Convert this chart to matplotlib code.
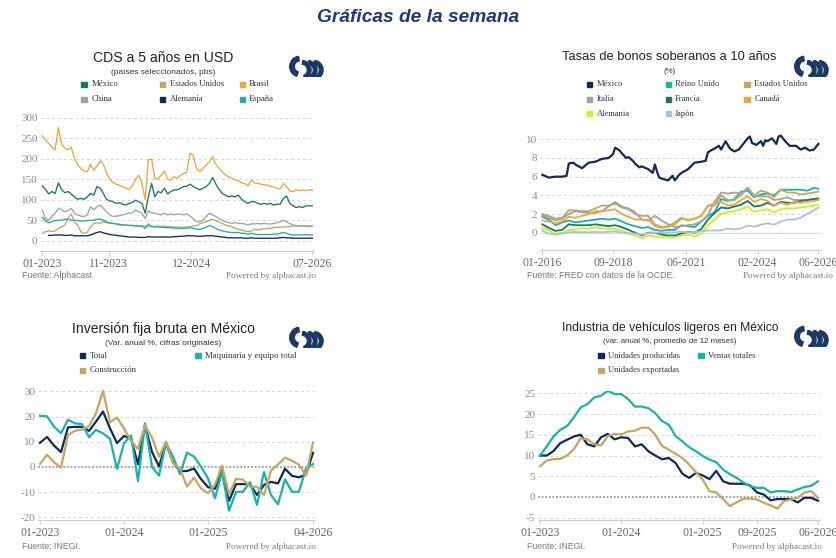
import matplotlib
matplotlib.use('Agg')
import matplotlib.pyplot as plt
from matplotlib.patches import Wedge, Rectangle
import numpy as np

# ---------------- DATA ----------------
# Panel 1: CDS a 5 años en USD (months since 01-2023, half-month samples)
cds_months = [i * 0.5 for i in range(85)]
cds_mexico = [134, 125, 114, 120, 115, 141, 125, 117, 120, 114,
              107, 101, 103, 101, 107, 115, 111, 132, 128, 115,
              101, 97, 95, 91, 93, 89, 87, 91, 93, 99,
              95, 91, 67, 107, 140, 107, 120, 117, 128, 114,
              120, 124, 124, 128, 132, 133, 138, 132, 128, 124,
              128, 132, 140, 154, 138, 125, 115, 111, 107, 109,
              107, 111, 101, 95, 91, 95, 95, 91, 89, 91,
              89, 91, 87, 89, 89, 103, 109, 91, 85, 81,
              83, 81, 85, 85, 85]
cds_eeuu = [18, 22, 24, 22, 24, 30, 34, 38, 54, 65,
            46, 38, 22, 18, 20, 34, 42, 44, 42, 46,
            44, 42, 42, 41, 38, 38, 38, 37, 38, 36,
            36, 34, 36, 34, 36, 34, 36, 34, 36, 34,
            34, 33, 34, 33, 33, 34, 34, 36, 37, 41,
            44, 46, 50, 52, 49, 46, 42, 38, 36, 34,
            30, 28, 26, 24, 22, 24, 28, 26, 28, 29,
            30, 30, 32, 33, 33, 33, 34, 34, 36, 36,
            36, 36, 36, 36, 36]
cds_brasil = [256, 245, 237, 228, 222, 276, 236, 226, 222, 228,
              200, 186, 176, 170, 168, 186, 172, 182, 195, 186,
              165, 150, 142, 138, 135, 131, 128, 125, 134, 150,
              160, 140, 100, 198, 199, 152, 150, 160, 170, 150,
              148, 156, 152, 160, 164, 168, 214, 208, 176, 168,
              176, 185, 192, 205, 186, 176, 168, 160, 156, 152,
              148, 146, 141, 139, 134, 148, 141, 140, 138, 136,
              136, 133, 131, 128, 126, 140, 132, 121, 120, 124,
              122, 124, 122, 124, 124]
cds_china = [75, 54, 50, 60, 67, 79, 75, 71, 73, 79,
             67, 63, 60, 59, 63, 83, 75, 83, 87, 79,
             71, 63, 59, 60, 61, 63, 65, 67, 68, 75,
             71, 67, 54, 73, 68, 67, 65, 63, 67, 63,
             65, 63, 65, 65, 63, 65, 60, 54, 46, 46,
             50, 59, 67, 63, 59, 54, 50, 46, 44, 42,
             44, 42, 42, 41, 38, 41, 41, 42, 41, 42,
             41, 41, 42, 44, 46, 50, 46, 42, 38, 37,
             36, 36, 36, 34, 36]
cds_alemania = [np.nan, np.nan, 13, 13, 14, 14, 14, 13, 13, 14,
                12, 12, 12, 12, 12, 14, 17, 20, 22, 19,
                17, 15, 14, 13, 12, 11, 10, 9, 9, 9,
                8, 8, 8, 10, 9, 9, 9, 9, 9, 9,
                9, 10, 10, 11, 11, 12, 12, 12, 11, 11,
                11, 12, 12, 12, 11, 10, 9, 8, 7, 7,
                7, 7, 7, 6, 6, 7, 6, 6, 6, 6,
                6, 6, 6, 6, 7, 8, 7, 7, 6, 6,
                6, 6, 6, 6, 6]
cds_espana = [57, 48, 44, 46, 49, 50, 50, 52, 53, 50,
              50, 49, 48, 48, 49, 50, 50, 52, 53, 50,
              46, 44, 42, 41, 40, 39, 38, 37, 37, 36,
              36, 36, 30, 41, 34, 34, 33, 33, 32, 32,
              31, 31, 30, 30, 30, 30, 32, 30, 28, 28,
              30, 33, 37, 34, 30, 26, 24, 22, 21, 20,
              20, 20, 18, 18, 16, 18, 16, 15, 15, 15,
              15, 15, 16, 16, 18, 20, 18, 15, 14, 14,
              14, 14, 15, 14, 14]
cds_tick_pos = [0, 10.3, 23.2, 42]
cds_tick_lab = ['01-2023', '11-2023', '12-2024', '07-2026']

# Panel 2: Tasas de bonos soberanos a 10 años (months since 01-2016)
bond_mx_months = [0, 3, 6, 9, 11, 12, 14, 15, 18, 21, 24, 27, 30, 32, 33, 35, 36, 38, 39, 41,
                  42, 44, 45, 48, 50, 51, 52, 53, 54, 57, 59, 60, 62, 63, 66, 69, 72, 74, 75, 77,
                  78, 80, 81, 83, 85, 87, 89, 91, 93, 94, 95, 97, 99, 100, 101, 102, 104, 106, 107, 108,
                  110, 112, 115, 117, 119, 121, 123, 125]
bond_mexico = [6.2, 5.9, 6.0, 6.0, 6.1, 7.4, 7.5, 7.3, 6.9, 7.5, 7.6, 7.9, 8.0, 8.4, 9.1, 8.8, 8.5, 8.0, 8.1, 7.7,
               7.4, 7.0, 7.1, 6.8, 6.4, 7.3, 6.5, 5.9, 5.8, 5.6, 6.1, 5.6, 6.2, 6.4, 6.8, 7.5, 7.6, 7.7, 8.6, 8.9,
               9.0, 9.3, 8.9, 9.8, 9.0, 8.7, 8.9, 9.5, 10.1, 10.3, 9.6, 9.4, 9.8, 9.3, 9.9, 9.8, 10.1, 9.5, 10.3, 10.4,
               9.8, 9.3, 9.3, 8.9, 9.1, 8.8, 8.9, 9.5]
bond_months = [0, 3, 6, 9, 12, 15, 18, 21, 24, 27, 30, 33, 36, 39, 42, 45, 48, 51, 54, 57,
               60, 63, 66, 69, 72, 75, 78, 81, 84, 87, 90, 93, 96, 99, 102, 105, 108, 111, 114, 117,
               120, 123, 125]
bond_reino_unido = [1.7, 1.4, 0.8, 1.1, 1.3, 1.1, 1.2, 1.3, 1.4, 1.5,
                    1.4, 1.5, 1.2, 0.9, 0.7, 0.5, 0.6, 0.3, 0.2, 0.3,
                    0.3, 0.8, 0.7, 0.6, 1.2, 1.8, 2.2, 3.6, 3.4, 3.6,
                    4.4, 4.5, 3.8, 4.1, 4.2, 4.0, 4.6, 4.6, 4.6, 4.6,
                    4.5, 4.8, 4.7]
bond_eeuu = [2.0, 1.8, 1.5, 1.6, 2.4, 2.4, 2.3, 2.3, 2.6, 2.9,
             2.9, 3.1, 2.7, 2.5, 2.0, 1.8, 1.8, 0.9, 0.6, 0.7,
             1.1, 1.6, 1.3, 1.5, 1.8, 2.9, 2.9, 4.0, 3.5, 3.5,
             4.0, 4.8, 4.0, 4.5, 4.3, 3.8, 4.6, 4.3, 4.3, 4.1,
             4.2, 4.3, 4.4]
bond_italia = [1.9, 1.6, 1.3, 1.5, 2.0, 2.3, 2.2, 2.1, 2.1, 2.3,
               2.8, 3.3, 2.8, 2.6, 2.2, 1.4, 1.3, 1.8, 1.3, 0.9,
               0.6, 0.7, 0.8, 0.9, 1.2, 1.9, 3.3, 4.3, 4.2, 4.3,
               4.2, 4.8, 3.9, 3.9, 3.9, 3.5, 3.6, 3.8, 3.5, 3.5,
               3.5, 3.6, 3.7]
bond_francia = [0.9, 0.5, 0.2, 0.3, 0.9, 0.8, 0.8, 0.8, 0.9, 0.8,
                0.7, 0.8, 0.6, 0.3, 0.0, -0.3, 0.0, 0.0, -0.2, -0.3,
                -0.3, -0.1, 0.1, 0.0, 0.4, 1.4, 2.1, 2.7, 2.6, 2.8,
                3.0, 3.4, 2.8, 2.9, 3.2, 2.9, 3.3, 3.2, 3.2, 3.4,
                3.5, 3.6, 3.6]
bond_canada = [1.3, 1.2, 1.0, 1.2, 1.7, 1.6, 1.8, 2.0, 2.3, 2.3,
               2.4, 2.5, 2.0, 1.7, 1.4, 1.4, 1.4, 0.7, 0.5, 0.6,
               0.9, 1.5, 1.4, 1.5, 1.8, 2.9, 3.1, 3.3, 2.9, 3.0,
               3.5, 3.9, 3.3, 3.6, 3.4, 2.9, 3.2, 3.0, 3.3, 3.2,
               3.3, 3.4, 3.5]
bond_alemania = [0.5, 0.2, -0.1, 0.0, 0.3, 0.3, 0.5, 0.4, 0.6, 0.5,
                 0.4, 0.4, 0.2, -0.1, -0.3, -0.6, -0.3, -0.4, -0.5, -0.5,
                 -0.5, -0.3, -0.2, -0.4, -0.1, 0.8, 1.4, 2.0, 2.2, 2.3,
                 2.5, 2.8, 2.2, 2.4, 2.5, 2.2, 2.5, 2.6, 2.6, 2.7,
                 2.8, 2.9, 3.0]
bond_japon = [0.2, -0.1, -0.2, -0.1, 0.05, 0.07, 0.05, 0.05, 0.08, 0.04,
              0.1, 0.13, 0.0, -0.05, -0.1, -0.2, -0.05, 0.0, 0.02, 0.03,
              0.05, 0.1, 0.05, 0.05, 0.15, 0.23, 0.24, 0.25, 0.45, 0.35,
              0.45, 0.75, 0.65, 0.85, 1.0, 0.85, 1.2, 1.4, 1.4, 1.6,
              2.0, 2.4, 2.7]
bond_tick_pos = [0, 32, 65, 97.5, 125]
bond_tick_lab = ['01-2016', '09-2018', '06-2021', '02-2024', '06-2026']

# Panel 3: Inversión fija bruta en México (monthly, 01-2023 .. 04-2026)
ifb_months = list(range(40))
ifb_total = [9.6, 11.9, 8.5, 5.9, 15.7, 15.9, 15.9, 14.3, 18.0, 22.0,
             15.3, 9.5, 12.3, 11.4, 1.1, 16.5, 6.0, 0.2, 9.4, 1.8,
             -1.6, -1.6, -0.6, -4.8, -8.0, -8.6, -1.3, -13.5, -6.8, -6.8,
             -6.8, -11.1, -7.1, -5.9, -6.5, -0.7, -3.5, -4.1, -2.9, 5.6]
ifb_maquinaria = [20.3, 20.1, 16.0, 13.4, 18.7, 17.3, 17.0, 11.8, 14.7, 13.3,
                  11.2, -0.8, 9.4, 12.5, -5.6, 17.3, 0.1, -3.4, 9.6, 4.1,
                  -2.8, 5.7, 4.1, 0.1, -4.5, -12.4, -1.9, -17.3, -9.9, -9.8,
                  -6.0, -15.0, -2.0, -11.1, -14.8, -4.9, -9.8, -9.8, -0.5, 1.2]
ifb_construccion = [1.2, 4.8, 1.9, -0.3, 12.7, 14.4, 14.8, 16.2, 21.3, 30.2,
                    17.7, 19.6, 15.3, 10.3, 7.2, 16.5, 11.7, 4.1, 10.0, 1.5,
                    -0.7, -7.8, -4.2, -8.5, -10.4, -7.0, 0.5, -10.8, -4.7, -5.0,
                    -7.8, -7.8, -11.1, -1.4, 1.0, 3.7, 2.5, 0.9, -3.4, 9.8]
ifb_tick_pos = [0, 12, 24, 39]
ifb_tick_lab = ['01-2023', '01-2024', '01-2025', '04-2026']

# Panel 4: Industria de vehículos ligeros (monthly, 01-2023 .. 06-2026)
veh_months = list(range(42))
veh_producidas = [10.0, 10.0, 11.1, 13.0, 13.8, 14.6, 15.0, 12.7, 12.2, 14.4,
                  15.2, 13.9, 14.4, 14.2, 12.2, 12.7, 11.0, 10.0, 9.1, 9.4,
                  8.2, 5.6, 4.6, 5.8, 5.2, 4.3, 6.3, 3.8, 3.2, 3.2,
                  3.2, 2.8, 1.1, 0.6, -0.8, -0.5, -0.5, -0.5, -1.3, -0.2,
                  -0.2, -0.9]
veh_ventas = [10.0, 12.2, 14.6, 16.2, 17.1, 19.2, 21.6, 22.4, 24.0, 24.4,
              25.6, 24.8, 24.8, 23.6, 21.8, 21.8, 21.4, 20.2, 18.3, 17.4,
              14.7, 13.4, 12.0, 11.0, 9.9, 9.0, 8.4, 6.6, 5.5, 4.6,
              3.5, 2.6, 2.2, 2.2, 1.1, 1.4, 1.4, 1.2, 1.8, 2.4,
              2.7, 3.8]
veh_exportadas = [7.4, 8.8, 9.1, 9.2, 10.0, 11.5, 14.2, 13.9, 12.7, 12.4,
                  14.7, 15.2, 15.1, 15.8, 16.0, 16.7, 16.7, 15.0, 12.3, 11.4,
                  10.4, 9.4, 7.8, 6.0, 4.2, 1.4, 1.1, -0.5, -2.2, -1.3,
                  -0.4, -0.4, -0.6, -1.4, -2.0, -2.8, -1.0, -0.6, -0.2, 1.1,
                  1.4, -0.2]
veh_tick_pos = [0, 12, 24, 32, 41]
veh_tick_lab = ['01-2023', '01-2024', '01-2025', '09-2025', '06-2026']

# ---------------- STYLE ----------------
W, H = 837, 558
fig = plt.figure(figsize=(W / 100, H / 100), dpi=100)
fig.patch.set_facecolor('white')

SANS = 'Liberation Sans'
SERIF = 'Liberation Serif'
NAVY = '#0f2a5a'
TEAL = '#17b3aa'
KHAKI = '#c6a55e'
GRAY = '#a2a2a2'
GREEN = '#177a58'
ORANGE = '#eba83a'
LIME = '#c6f41c'
LBLUE = '#a9c0e0'


def ftext(x, y, s, **kw):
    fig.text(x / W, 1 - y / H, s, **kw)


def make_ax(xlim, ylim, xcal, ycal):
    (xa, pxa), (xb, pxb) = xcal
    sx = (pxb - pxa) / (xb - xa)
    left = pxa + (xlim[0] - xa) * sx
    right = pxa + (xlim[1] - xa) * sx
    (ya, pya), (yb, pyb) = ycal
    sy = (pyb - pya) / (yb - ya)
    top = pya + (ylim[1] - ya) * sy
    bottom = pya + (ylim[0] - ya) * sy
    ax = fig.add_axes([left / W, 1 - bottom / H, (right - left) / W, (bottom - top) / H])
    ax.set_xlim(xlim)
    ax.set_ylim(ylim)
    return ax


def style_ax(ax, yticks, tpos, tlab, zero='grid'):
    for s in ('left', 'right', 'top'):
        ax.spines[s].set_visible(False)
    ax.spines['bottom'].set_color('#cfcfcf')
    ax.spines['bottom'].set_linewidth(0.8)
    ax.set_yticks(yticks)
    ax.set_yticklabels([str(t) for t in yticks], fontfamily=SERIF)
    ax.set_xticks(tpos)
    ax.set_xticklabels(tlab, fontfamily=SERIF)
    ax.tick_params(axis='y', length=0, pad=2, labelsize=8, labelcolor='#8a8a8a')
    ax.tick_params(axis='x', length=3, width=0.8, color='#cfcfcf', pad=2,
                   labelsize=8.5, labelcolor='#666666')
    for t in yticks:
        if t == 0 and zero == 'dotted':
            ax.axhline(0, color='#9a9a9a', lw=1.3, ls=(0, (1, 1)), zorder=1)
        elif t == 0 and zero == 'solid':
            ax.axhline(0, color='#dddddd', lw=0.9, zorder=1)
        else:
            ax.axhline(t, color='#d6d6d6', lw=0.7, ls=(0, (3, 3)), zorder=0)


def legend(items, cols_sq, cols_tx, rows, fs):
    for i, (lab, col) in enumerate(items):
        r, c = divmod(i, len(cols_sq))
        y = rows[r]
        fig.add_artist(Rectangle((cols_sq[c] / W, 1 - (y + 2.6) / H), 5.4 / W, 5.4 / H,
                                 transform=fig.transFigure, color=col))
        ftext(cols_tx[c], y, lab, fontsize=fs, family=SERIF, color='#333333',
              va='center', ha='left')


def logo(x0, y0, w=37, h=22):
    ax = fig.add_axes([x0 / W, 1 - (y0 + h) / H, w / W, h / H])
    ax.set_xlim(0, w)
    ax.set_ylim(0, h)
    ax.axis('off')
    c = '#1b3a63'
    # left crescent "("
    ax.add_patch(Wedge((12.0, 10.5), 10.3, 98, 252, width=4.6, color=c))
    # three slanted arches
    for cx in (13.5, 19.5, 25.5):
        ax.add_patch(Wedge((cx, 7.0), 9.6, -68, 82, width=3.7, color=c))


def titles(cx, y_title, y_sub, title, sub, fs_t, fs_s):
    ftext(cx, y_title, title, fontsize=fs_t, family=SANS, color='#222222',
          ha='center', va='center')
    ftext(cx, y_sub, sub, fontsize=fs_s, family=SANS, color='#333333',
          ha='center', va='center')


def footer(xl, xr, y, src):
    ftext(xl, y, src, fontsize=6.3, family=SANS, color='#7a7a7a', ha='left', va='center')
    ftext(xr, y, 'Powered by alphacast.io', fontsize=6.6, family=SERIF, color='#7a7a7a',
          ha='right', va='center')


# main title
ftext(418, 18, 'Gráficas de la semana', fontsize=13.8, family=SANS, weight='bold',
      style='italic', color='#1c3a7a', ha='center', va='center')

# ---------- Panel 1 ----------
titles(163.3, 58.3, 72.3, 'CDS a 5 años en USD', '(países seleccionados, pbs)', 10.1, 6.0)
logo(288, 55)
legend([('México', GREEN), ('Estados Unidos', KHAKI), ('Brasil', ORANGE),
        ('China', GRAY), ('Alemania', NAVY), ('España', TEAL)],
       [81.5, 160, 240], [91.5, 170, 248.5], [84.3, 99.3], 6.2)
ax1 = make_ax((-0.3, 42.3), (-25, 305), ((0, 42.3), (42, 312.3)), ((0, 240.7), (300, 117.7)))
style_ax(ax1, [0, 50, 100, 150, 200, 250, 300], cds_tick_pos, cds_tick_lab)
for ser, col in [(cds_mexico, GREEN), (cds_eeuu, KHAKI), (cds_brasil, ORANGE),
                 (cds_china, GRAY), (cds_alemania, NAVY), (cds_espana, TEAL)]:
    ax1.plot(cds_months, ser, color=col, lw=0.95, zorder=3)
footer(21.7, 316, 275.7, 'Fuente: Alphacast')

# ---------- Panel 2 ----------
titles(669.5, 57.3, 71.7, 'Tasas de bonos soberanos a 10 años', '(%)', 9.3, 5.7)
logo(793, 55)
legend([('México', NAVY), ('Reino Unido', TEAL), ('Estados Unidos', KHAKI),
        ('Italia', GRAY), ('Francia', GREEN), ('Canadá', ORANGE),
        ('Alemania', LIME), ('Japón', LBLUE)],
       [587, 665.5, 744.5], [596.7, 675, 754.3], [84.3, 99.3, 113.7], 6.1)
ax2 = make_ax((-1, 126), (-1.9, 10.6), ((0, 542.3), (125, 818.3)), ((0, 232.7), (10, 139.3)))
style_ax(ax2, [0, 2, 4, 6, 8, 10], bond_tick_pos, bond_tick_lab, zero='solid')
ax2.plot(bond_mx_months, bond_mexico, color=NAVY, lw=1.6, zorder=3)
for ser, col in [(bond_reino_unido, TEAL), (bond_eeuu, KHAKI), (bond_italia, GRAY),
                 (bond_francia, GREEN), (bond_canada, ORANGE), (bond_alemania, LIME),
                 (bond_japon, LBLUE)]:
    ax2.plot(bond_months, ser, color=col, lw=1.3, zorder=3)
footer(527.3, 833.3, 275.7, 'Fuente: FRED con datos de la OCDE.')

# ---------- Panel 3 ----------
titles(163.5, 329.3, 343.3, 'Inversión fija bruta en México',
       '(Var. anual %, cifras originales)', 10.1, 6.0)
logo(288, 326)
legend([('Total', NAVY), ('Maquinaria y equipo total', TEAL), ('Construcción', KHAKI)],
       [80, 195.5], [90, 205], [355.7, 370.3], 6.3)
ax3 = make_ax((-0.3, 39.3), (-21, 31), ((0, 40), (39, 313)), ((0, 467), (30, 391.3)))
style_ax(ax3, [-20, -10, 0, 10, 20, 30], ifb_tick_pos, ifb_tick_lab, zero='dotted')
for ser, col in [(ifb_total, NAVY), (ifb_maquinaria, TEAL), (ifb_construccion, KHAKI)]:
    ax3.plot(ifb_months, ser, color=col, lw=1.6, zorder=3)
footer(21.7, 316, 546.7, 'Fuente: INEGI.')

# ---------- Panel 4 ----------
titles(670, 328.3, 341.3, 'Industria de vehículos ligeros en México',
       '(var. anual %, promedio de 12 meses)', 8.7, 5.65)
logo(793, 325)
legend([('Unidades producidas', NAVY), ('Ventas totales', TEAL), ('Unidades exportadas', KHAKI)],
       [598.3, 698.3], [608.3, 708.3], [355.7, 370.3], 6.1)
ax4 = make_ax((-0.3, 41.3), (-5.5, 25.5), ((0, 540), (41, 818)), ((0, 497), (25, 393.3)))
style_ax(ax4, [-5, 0, 5, 10, 15, 20, 25], veh_tick_pos, veh_tick_lab, zero='dotted')
for ser, col in [(veh_producidas, NAVY), (veh_ventas, TEAL), (veh_exportadas, KHAKI)]:
    ax4.plot(veh_months, ser, color=col, lw=1.6, zorder=3)
footer(527.3, 821.7, 546.7, 'Fuente: INEGI.')

fig.savefig('out.png', dpi=100, facecolor='white')
